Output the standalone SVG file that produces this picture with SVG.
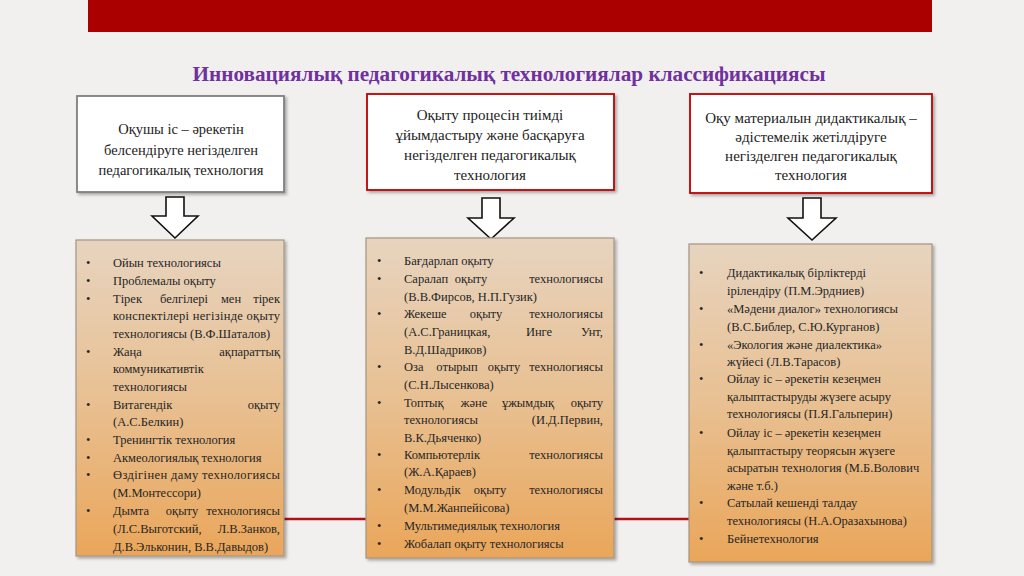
<svg xmlns="http://www.w3.org/2000/svg" width="1024" height="576" viewBox="0 0 1024 576">
<defs>
<linearGradient id="g" x1="0" y1="0" x2="0" y2="1">
<stop offset="0" stop-color="#e7d4bf"/>
<stop offset="0.5" stop-color="#e8c092"/>
<stop offset="1" stop-color="#eaa65a"/>
</linearGradient>
<filter id="sh" x="-5%" y="-5%" width="115%" height="115%">
<feDropShadow dx="2" dy="2" stdDeviation="1.5" flood-color="#000" flood-opacity="0.3"/>
</filter>
</defs>
<style>
.hd{fill:#fff;stroke-width:1.8}
.gray{stroke:#7f7f7f}
.red{stroke:#c00000}
.body{fill:url(#g);stroke:#a49482;stroke-width:1.2}
.ht{font-family:"Liberation Serif","Times New Roman",serif;fill:#222;text-anchor:middle}
.t{font-family:"Liberation Serif","Times New Roman",serif;font-size:12.5px;fill:#262626}
.e{text-anchor:end}
.m{text-anchor:middle}
.arr{fill:#fff;stroke:#111;stroke-width:1.6;stroke-linejoin:miter}
</style>
<rect width="1024" height="576" fill="#f1f0ee"/>
<rect x="88" y="0" width="844" height="32" fill="#ab0000"/>
<text x="509" y="81" font-family="Liberation Serif,serif" font-weight="bold" font-size="20" fill="#7030a0" text-anchor="middle" textLength="633" lengthAdjust="spacingAndGlyphs">Инновациялық педагогикалық технологиялар классификациясы</text>

<g id="connectors">
<line x1="284" y1="519" x2="690" y2="519" stroke="#b0101c" stroke-width="2.5"/>
<path class="arr" d="M166,197 H184 V216 H198 L175,238 L152,216 H166 Z"/>
<path class="arr" d="M482,198 H500 V218 H514 L491,239 L468,218 H482 Z"/>
<path class="arr" d="M803,198 H821 V218 H836 L812,240 L788,218 H803 Z"/>
</g>

<g id="head1">
<rect class="hd gray" x="77" y="96" width="207" height="96" filter="url(#sh)"/>
<text class="ht" font-size="14.5"><tspan x="181" y="134">Оқушы іс – әрекетін</tspan><tspan x="181" y="154.5">белсендіруге негізделген</tspan><tspan x="181" y="175">педагогикалық технология</tspan></text>
</g>
<g id="head2">
<rect class="hd red" x="367" y="94" width="247" height="96" filter="url(#sh)"/>
<text class="ht" font-size="15"><tspan x="490" y="120">Оқыту процесін тиімді</tspan><tspan x="490" y="140">ұйымдастыру және басқаруға</tspan><tspan x="490" y="159.5">негізделген педагогикалық</tspan><tspan x="490" y="180">технология</tspan></text>
</g>
<g id="head3">
<rect class="hd red" x="690" y="94" width="242" height="99" filter="url(#sh)"/>
<text class="ht" font-size="15"><tspan x="811" y="123">Оқу материалын дидактикалық –</tspan><tspan x="811" y="142">әдістемелік жетілдіруге</tspan><tspan x="811" y="160.5">негізделген педагогикалық</tspan><tspan x="811" y="180">технология</tspan></text>
</g>

<g id="list1">
<rect class="body" x="76" y="240" width="208" height="316" filter="url(#sh)"/>
<g class="t">
<text x="86" y="267">•</text><text x="113" y="267">Ойын технологиясы</text>
<text x="86" y="285">•</text><text x="113" y="285">Проблемалы оқыту</text>
<text x="86" y="302.5">•</text><text x="113" y="302.5">Тірек</text><text x="160" y="302.5">белгілері</text><text class="m" x="231" y="302.5">мен</text><text class="e" x="280" y="302.5">тірек</text>
<text x="113" y="320" textLength="167" lengthAdjust="spacing">конспектілері негізінде оқыту</text>
<text x="113" y="338">технологиясы (В.Ф.Шаталов)</text>
<text x="86" y="355.5">•</text><text x="113" y="355.5">Жаңа</text><text class="e" x="280" y="355.5">ақпараттық</text>
<text x="113" y="373">коммуникативтік</text>
<text x="113" y="391">технологиясы</text>
<text x="86" y="408.5">•</text><text x="113" y="408.5">Витагендік</text><text class="e" x="280" y="408.5">оқыту</text>
<text x="113" y="426">(А.С.Белкин)</text>
<text x="86" y="444">•</text><text x="113" y="444">Тренингтік технология</text>
<text x="86" y="462">•</text><text x="113" y="462">Акмеологиялық технология</text>
<text x="86" y="479">•</text><text x="113" y="479" textLength="167" lengthAdjust="spacing">Өздігінен даму технологиясы</text>
<text x="113" y="497">(М.Монтессори)</text>
<text x="86" y="515">•</text><text x="113" y="515">Дымта</text><text class="m" x="182" y="515">оқыту</text><text class="e" x="280" y="515">технологиясы</text>
<text x="113" y="533">(Л.С.Выготский,</text><text class="e" x="280" y="533">Л.В.Занков,</text>
<text x="113" y="551">Д.В.Эльконин, В.В.Давыдов)</text>
</g>
</g>

<g id="list2">
<rect class="body" x="366" y="238" width="248" height="320" filter="url(#sh)"/>
<g class="t">
<text x="377" y="265">•</text><text x="404" y="265">Бағдарлап оқыту</text>
<text x="377" y="283">•</text><text x="404" y="283">Саралап</text><text class="m" x="471" y="283">оқыту</text><text class="e" x="603" y="283">технологиясы</text>
<text x="404" y="301">(В.В.Фирсов, Н.П.Гузик)</text>
<text x="377" y="318">•</text><text x="404" y="318">Жекеше</text><text class="m" x="486" y="318">оқыту</text><text class="e" x="603" y="318">технологиясы</text>
<text x="404" y="336">(А.С.Границкая,</text><text class="m" x="539" y="336">Инге</text><text class="e" x="603" y="336">Унт,</text>
<text x="404" y="354">В.Д.Шадриков)</text>
<text x="377" y="371">•</text><text x="404" y="371">Оза</text><text class="m" x="457" y="371">отырып</text><text class="m" x="504" y="371">оқыту</text><text class="e" x="603" y="371">технологиясы</text>
<text x="404" y="389">(С.Н.Лысенкова)</text>
<text x="377" y="407">•</text><text x="404" y="407">Топтық</text><text class="m" x="474" y="407">және</text><text class="m" x="528" y="407">ұжымдық</text><text class="e" x="603" y="407">оқыту</text>
<text x="404" y="424">технологиясы</text><text class="e" x="603" y="424">(И.Д.Первин,</text>
<text x="404" y="442">В.К.Дьяченко)</text>
<text x="377" y="459">•</text><text x="404" y="459">Компьютерлік</text><text class="e" x="603" y="459">технологиясы</text>
<text x="404" y="476">(Ж.А.Қараев)</text>
<text x="377" y="494">•</text><text x="404" y="494">Модульдік</text><text class="m" x="490" y="494">оқыту</text><text class="e" x="603" y="494">технологиясы</text>
<text x="404" y="512">(М.М.Жанпейісова)</text>
<text x="377" y="530">•</text><text x="404" y="530">Мультимедиялық технология</text>
<text x="377" y="548">•</text><text x="404" y="548">Жобалап оқыту технологиясы</text>
</g>
</g>

<g id="list3">
<rect class="body" x="689" y="244" width="243" height="318" filter="url(#sh)"/>
<g class="t">
<text x="699" y="277">•</text><text x="727" y="277">Дидактикалық бірліктерді</text>
<text x="727" y="295">ірілендіру (П.М.Эрдниев)</text>
<text x="699" y="313">•</text><text x="727" y="313">«Мәдени диалог» технологиясы</text>
<text x="727" y="331">(В.С.Библер, С.Ю.Курганов)</text>
<text x="699" y="349">•</text><text x="727" y="349">«Экология және диалектика»</text>
<text x="727" y="366">жүйесі (Л.В.Тарасов)</text>
<text x="699" y="383">•</text><text x="727" y="383">Ойлау іс – әрекетін кезеңмен</text>
<text x="727" y="401">қалыптастыруды жүзеге асыру</text>
<text x="727" y="418">технологиясы (П.Я.Гальперин)</text>
<text x="699" y="437">•</text><text x="727" y="437">Ойлау іс – әрекетін кезеңмен</text>
<text x="727" y="455">қалыптастыру теорясын жүзеге</text>
<text x="727" y="472">асыратын технология (М.Б.Волович</text>
<text x="727" y="490">және т.б.)</text>
<text x="699" y="507">•</text><text x="727" y="507">Сатылай кешенді талдау</text>
<text x="727" y="525">технологиясы (Н.А.Оразахынова)</text>
<text x="699" y="543">•</text><text x="727" y="543">Бейнетехнология</text>
</g>
</g>
</svg>
